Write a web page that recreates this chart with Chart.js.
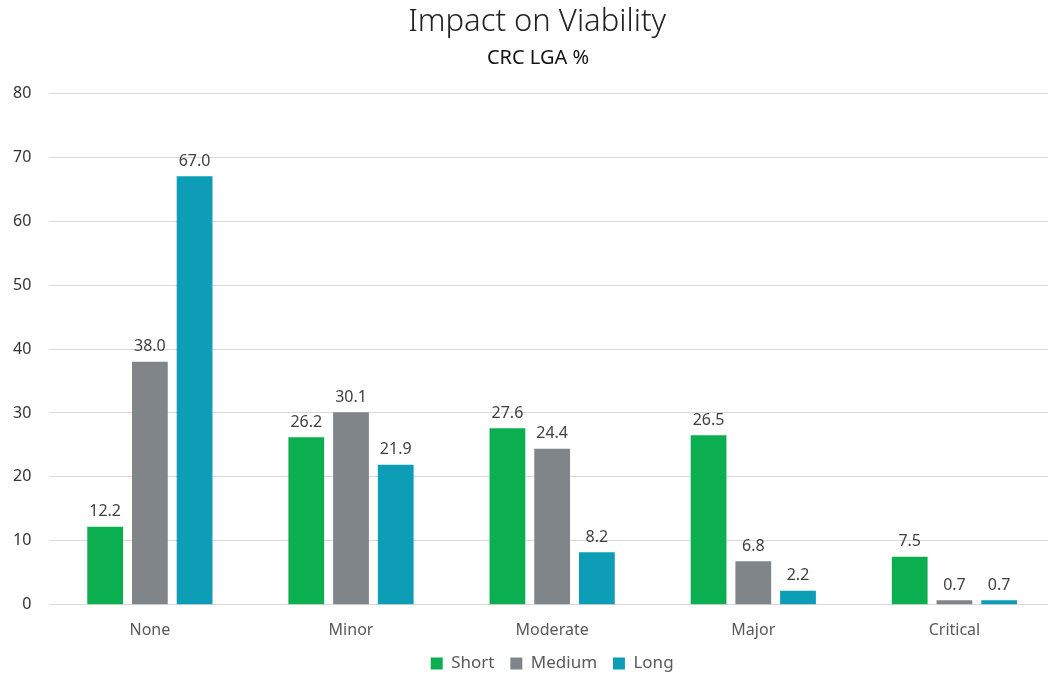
<!DOCTYPE html>
<html lang="en">
<head>
  <meta charset="UTF-8">
  <title>Impact on Viability</title>
  <script src="https://cdn.jsdelivr.net/npm/chart.js"></script>
  <style>
    html, body { margin: 0; padding: 0; background: white; overflow: hidden; width: 1048px; height: 674px; }
    #viabilityChart { position: absolute; left: -7px; top: 0; }
  </style>
</head>
<body>
  <canvas id="viabilityChart" width="1088" height="682"></canvas>

  <script>
    const categories = ['None', 'Minor', 'Moderate', 'Major', 'Critical'];
    const shortVals = [12.2, 26.2, 27.6, 26.5, 7.5];
    const mediumVals = [38.0, 30.1, 24.4, 6.8, 0.7];
    const longVals = [67.0, 21.9, 8.2, 2.2, 0.7];
    const yTicks = [0, 10, 20, 30, 40, 50, 60, 70, 80];

    // draws the value above each bar
    const valueLabels = {
      id: 'valueLabels',
      afterDatasetsDraw(chart) {
        const ctx = chart.ctx;
        ctx.save();
        ctx.font = '16px "Noto Sans"';
        ctx.fillStyle = '#404040';
        ctx.textAlign = 'center';
        ctx.textBaseline = 'bottom';
        chart.data.datasets.forEach((ds, i) => {
          chart.getDatasetMeta(i).data.forEach((bar, j) => {
            ctx.fillText(ds.data[j].toFixed(1), bar.x, bar.y - 7);
          });
        });
        ctx.restore();
      }
    };

    // leading nbsp nudges the centred titles to the right, like the original
    const nb = (n) => '\u00a0'.repeat(n);

    new Chart(document.getElementById('viabilityChart'), {
      type: 'bar',
      data: {
        labels: categories,
        datasets: [
          { label: 'Short', data: shortVals, backgroundColor: '#0caf4f' },
          { label: 'Medium', data: mediumVals, backgroundColor: '#80858a' },
          { label: 'Long', data: longVals, backgroundColor: '#0e9db7' }
        ]
      },
      options: {
        responsive: false,
        animation: false,
        datasets: { bar: { categoryPercentage: 0.667, barPercentage: 0.8 } },
        layout: { padding: { left: 2, right: 26, top: 0, bottom: 0 } },
        scales: {
          x: {
            grid: { display: false },
            border: { color: '#d9d9d9' },
            ticks: { color: '#595959', font: { family: 'Noto Sans', size: 16 }, padding: 8 }
          },
          y: {
            min: 0, max: 80,
            afterBuildTicks: (axis) => { axis.ticks = yTicks.map(v => ({ value: v })); },
            grid: { color: '#d9d9d9', drawTicks: false },
            border: { display: false },
            ticks: { color: '#333333', font: { family: 'Noto Sans', size: 16 }, padding: 18 }
          }
        },
        plugins: {
          title: {
            display: true,
            text: nb(3) + 'Impact on Viability',
            color: '#222222',
            font: { family: 'Noto Sans', size: 31, weight: '300' },
            padding: { top: 4, bottom: 5 }
          },
          subtitle: {
            display: true,
            text: nb(5) + 'CRC LGA %',
            color: '#111111',
            font: { family: 'Noto Sans', size: 20 },
            padding: { bottom: 23 }
          },
          legend: {
            position: 'bottom',
            fullSize: false,
            labels: {
              color: '#595959',
              font: { family: 'Noto Sans', size: 17 },
              boxWidth: 12, boxHeight: 12, padding: 7,
              generateLabels(chart) {
                const items = Chart.defaults.plugins.legend.labels.generateLabels(chart);
                items.forEach((it, i) => { if (i < items.length - 1) it.text += '  '; });
                return items;
              }
            }
          },
          tooltip: { enabled: false }
        }
      },
      plugins: [valueLabels]
    });
  </script>
</body>
</html>
